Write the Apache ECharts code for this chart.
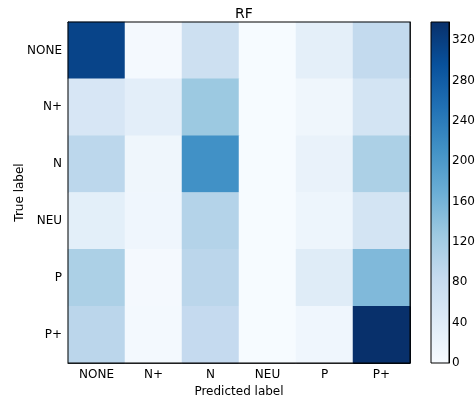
<!DOCTYPE html>
<html>
<head>
<meta charset="utf-8">
<script src="https://cdn.jsdelivr.net/npm/echarts@6/dist/echarts.min.js"></script>
<style>
  html, body { margin: 0; padding: 0; background: #fff; }
  #chart { width: 475px; height: 399px; }
</style>
</head>
<body>
<div id="chart"></div>
<script>
// labels, predicted along x, true along y
const labels = ['NONE', 'N+', 'N', 'NEU', 'P', 'P+'];

// confusion matrix rows (true label)
const rowNONE = [312, 5, 72, 1, 32, 88];
const rowNPlus = [55, 34, 128, 1, 14, 62];
const rowN = [95, 14, 212, 1, 24, 112];
const rowNEU = [33, 13, 104, 1, 17, 62];
const rowP = [112, 5, 96, 1, 40, 152];
const rowPPlus = [96, 6, 86, 1, 13, 338];
const matrix = [rowNONE, rowNPlus, rowN, rowNEU, rowP, rowPPlus];

const colorbarTicks = [0, 40, 80, 120, 160, 200, 240, 280, 320];
const vMax = 338;

const blues = ['#f7fbff', '#deebf7', '#c6dbef', '#9ecae1', '#6baed6', '#4292c6', '#2171b5', '#08519c', '#08306b'];

const chart = echarts.init(document.getElementById('chart'));

const cells = [];
matrix.forEach((row, y) => row.forEach((v, x) => cells.push([x, y, v])));

const font = 'DejaVu Sans';
const tickStyle = { inside: true, length: 4, lineStyle: { color: '#000', width: 1 } };

const option = {
    backgroundColor: '#fff',
    animation: false,
    title: {
        text: 'RF',
        left: 239,
        top: 2,
        textAlign: 'center',
        textStyle: { fontFamily: font, fontSize: 14, fontWeight: 'normal', color: '#000' }
    },
    grid: [
        { left: 68, top: 22, width: 342, height: 341, outerBoundsMode: 'none', show: true, borderColor: '#000', borderWidth: 1, z: 5 },
        { left: 431, top: 22, width: 18, height: 341, outerBoundsMode: 'none', show: true, borderColor: '#000', borderWidth: 1, z: 5 }
    ],
    xAxis: [
        {
            gridIndex: 0, type: 'category', data: labels, position: 'bottom',
            name: 'Predicted label', nameLocation: 'middle', nameGap: 22,
            nameTextStyle: { fontFamily: font, fontSize: 12, color: '#000' },
            axisLine: { show: true, lineStyle: { color: '#000' } },
            axisTick: { ...tickStyle, alignWithLabel: true },
            axisLabel: { fontFamily: font, fontSize: 12, color: '#000', margin: 6 },
            splitLine: { show: false }
        },
        {
            gridIndex: 0, type: 'category', data: labels, position: 'top',
            axisLine: { show: true, lineStyle: { color: '#000' } },
            axisTick: { ...tickStyle, alignWithLabel: true },
            axisLabel: { show: false }
        },
        {
            gridIndex: 1, type: 'category', data: [''],
            axisLine: { show: false }, axisTick: { show: false }, axisLabel: { show: false }
        }
    ],
    yAxis: [
        {
            gridIndex: 0, type: 'category', data: labels, inverse: true, position: 'left',
            name: 'True label', nameLocation: 'middle', nameGap: 42, nameRotate: 90,
            nameMoveOverlap: false,
            nameTextStyle: { fontFamily: font, fontSize: 12, color: '#000' },
            axisLine: { show: true, lineStyle: { color: '#000' } },
            axisTick: { ...tickStyle, alignWithLabel: true },
            axisLabel: { fontFamily: font, fontSize: 12, color: '#000', margin: 6 },
            splitLine: { show: false }
        },
        {
            gridIndex: 0, type: 'category', data: labels, inverse: true, position: 'right',
            axisLine: { show: true, lineStyle: { color: '#000' } },
            axisTick: { ...tickStyle, alignWithLabel: true },
            axisLabel: { show: false }
        },
        {
            gridIndex: 1, type: 'value', min: 0, max: vMax, interval: 40, position: 'right',
            axisLine: { show: true, lineStyle: { color: '#000' } },
            axisTick: { ...tickStyle, length: 3 },
            axisLabel: {
                fontFamily: font, fontSize: 12, color: '#000', margin: 3, showMaxLabel: false,
                formatter: v => (colorbarTicks.includes(v) ? String(v) : '')
            },
            splitLine: { show: false }
        }
    ],
    visualMap: {
        show: false,
        seriesIndex: 0,
        min: 0,
        max: vMax,
        inRange: { color: blues }
    },
    series: [
        {
            type: 'heatmap',
            xAxisIndex: 0,
            yAxisIndex: 0,
            data: cells
        },
        {
            type: 'bar',
            xAxisIndex: 2,
            yAxisIndex: 2,
            data: [vMax],
            barWidth: '100%',
            itemStyle: {
                color: new echarts.graphic.LinearGradient(0, 1, 0, 0,
                    blues.map((c, i) => ({ offset: i / (blues.length - 1), color: c })))
            }
        }
    ]
};

chart.setOption(option);
window.addEventListener('resize', () => chart.resize());
</script>
</body>
</html>
